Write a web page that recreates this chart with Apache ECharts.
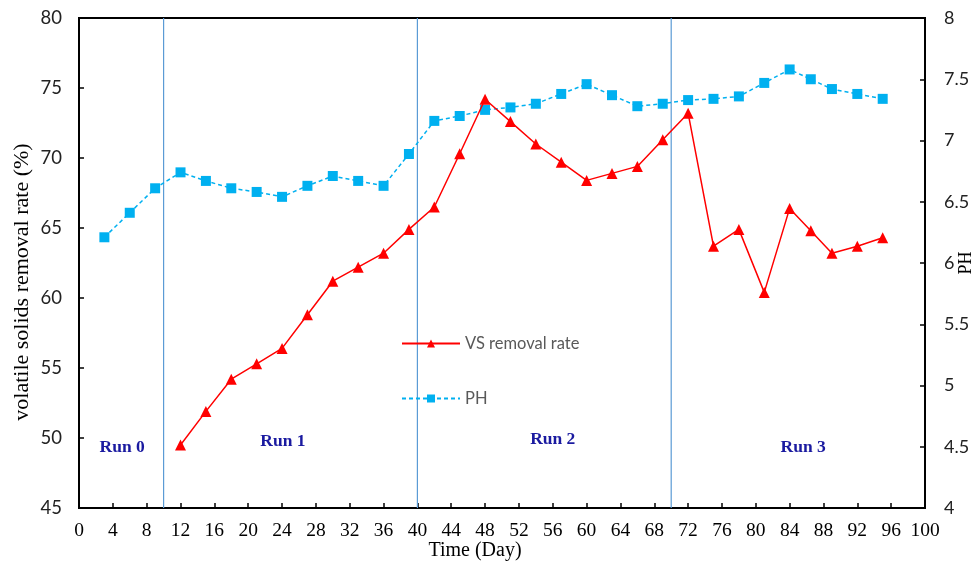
<!DOCTYPE html>
<html>
<head>
<meta charset="utf-8">
<script src="https://cdn.jsdelivr.net/npm/echarts@6/dist/echarts.min.js"></script>
<style>html,body{margin:0;padding:0;background:#fff}#c{width:976px;height:563px}</style>
</head>
<body>
<div id="c"></div>
<script>
var vsDays = [12,15,18,21,24,27,30,33,36,39,42,45,48,51,54,57,60,63,66,69,72,75,78,81,84,86.5,89,92,95];
var vsRate = [49.5,51.9,54.2,55.3,56.4,58.8,61.2,62.2,63.2,64.9,66.5,70.3,74.2,72.6,71.0,69.7,68.4,68.9,69.4,71.3,73.2,63.7,64.9,60.4,66.4,64.8,63.2,63.7,64.3];
var phDays = [3,6,9,12,15,18,21,24,27,30,33,36,39,42,45,48,51,54,57,60,63,66,69,72,75,78,81,84,86.5,89,92,95];
var phValues = [6.21,6.41,6.61,6.74,6.67,6.61,6.58,6.54,6.63,6.71,6.67,6.63,6.89,7.16,7.20,7.25,7.27,7.30,7.38,7.46,7.37,7.28,7.30,7.33,7.34,7.36,7.47,7.58,7.50,7.42,7.38,7.34];
var runLabels = ['Run 0','Run 1','Run 2','Run 3'];
var runX = [5.1,24.1,56,85.6];
var runY = [49.3,49.75,49.9,49.3];
var dividers = [10,40,70];
var seriesNames = ['VS removal rate','PH'];
var leftMin = 45, leftMax = 80;

function pairs(xs, ys){ return xs.map(function(x,i){ return [x, ys[i]]; }); }

var chart = echarts.init(document.getElementById('c'), null, {renderer:'canvas'});
var serif = '"Liberation Serif", "DejaVu Serif", serif';
var sans = 'Lato, "Noto Sans", sans-serif';

var dividerSeries = dividers.map(function(d){
  return {
    name:'divider', type:'line', yAxisIndex:0, silent:true, symbol:'none', z:2,
    data:[[d, leftMin],[d, leftMax]],
    lineStyle:{color:'#5b9bd5',width:1.2,type:'solid'}, emphasis:{disabled:true}
  };
});

chart.setOption({
  animation:false,
  backgroundColor:'#fff',
  grid:{left:79,right:51,top:18,bottom:55,containLabel:false,outerBoundsMode:'none',
        show:true,borderColor:'#000',borderWidth:2,backgroundColor:'transparent'},
  legend:{
    data:seriesNames, orient:'vertical', left:396, top:330, itemWidth:58, itemHeight:10, itemGap:38,
    textStyle:{color:'#595959',fontSize:16.5,fontFamily:sans}
  },
  xAxis:{
    type:'value', min:0, max:100, interval:4,
    name:'Time (Day)', nameLocation:'middle', nameGap:33, nameMoveOverlap:false,
    nameTextStyle:{fontFamily:serif,fontSize:20,color:'#000',padding:[0,54,0,0]},
    axisLine:{lineStyle:{color:'#000',width:2}},
    axisTick:{inside:true,length:5,lineStyle:{color:'#000',width:1.5}},
    axisLabel:{fontFamily:serif,fontSize:19.5,color:'#000',margin:13},
    splitLine:{show:false}
  },
  yAxis:[{
    type:'value', min:leftMin, max:leftMax, interval:5, position:'left',
    name:'volatile solids removal rate (%)', nameLocation:'middle', nameGap:46, nameRotate:90, nameMoveOverlap:false,
    nameTextStyle:{fontFamily:serif,fontSize:22,color:'#000',padding:[0,38,0,0]},
    axisLine:{show:true,lineStyle:{color:'#000',width:2}},
    axisTick:{show:true,inside:true,length:5,lineStyle:{color:'#000',width:1.5}},
    axisLabel:{fontFamily:sans,fontSize:18.5,color:'#222',margin:17},
    splitLine:{show:false}
  },{
    type:'value', min:4, max:8, interval:0.5, position:'right',
    name:'PH', nameLocation:'middle', nameGap:32, nameRotate:90, nameMoveOverlap:false,
    nameTextStyle:{fontFamily:serif,fontSize:18,color:'#000'},
    axisLine:{show:true,lineStyle:{color:'#000',width:2}},
    axisTick:{show:true,inside:true,length:5,lineStyle:{color:'#000',width:1.5}},
    axisLabel:{fontFamily:sans,fontSize:18,color:'#222',margin:19},
    splitLine:{show:false}
  }],
  series:[{
    name:seriesNames[0], type:'line', yAxisIndex:0, data:pairs(vsDays,vsRate),
    symbol:'triangle', symbolSize:11, color:'#ff0000',
    lineStyle:{color:'#ff0000',width:1.5}, itemStyle:{color:'#ff0000'}, z:4
  },{
    name:seriesNames[1], type:'line', yAxisIndex:1, data:pairs(phDays,phValues),
    symbol:'rect', symbolSize:10, color:'#00b0f0',
    lineStyle:{color:'#00b0f0',width:1.5,type:[4,3]}, itemStyle:{color:'#00b0f0'}, z:3
  },{
    name:'runs', type:'scatter', yAxisIndex:0, silent:true, symbolSize:0,
    itemStyle:{opacity:1},
    data:runLabels.map(function(n,i){ return {name:n, value:[runX[i], runY[i]]}; }),
    label:{show:true, position:'inside', formatter:'{b}', fontFamily:serif, fontWeight:'bold', fontSize:17.5, color:'#1a1aa0', opacity:1}
  }].concat(dividerSeries)
});
</script>
</body>
</html>
